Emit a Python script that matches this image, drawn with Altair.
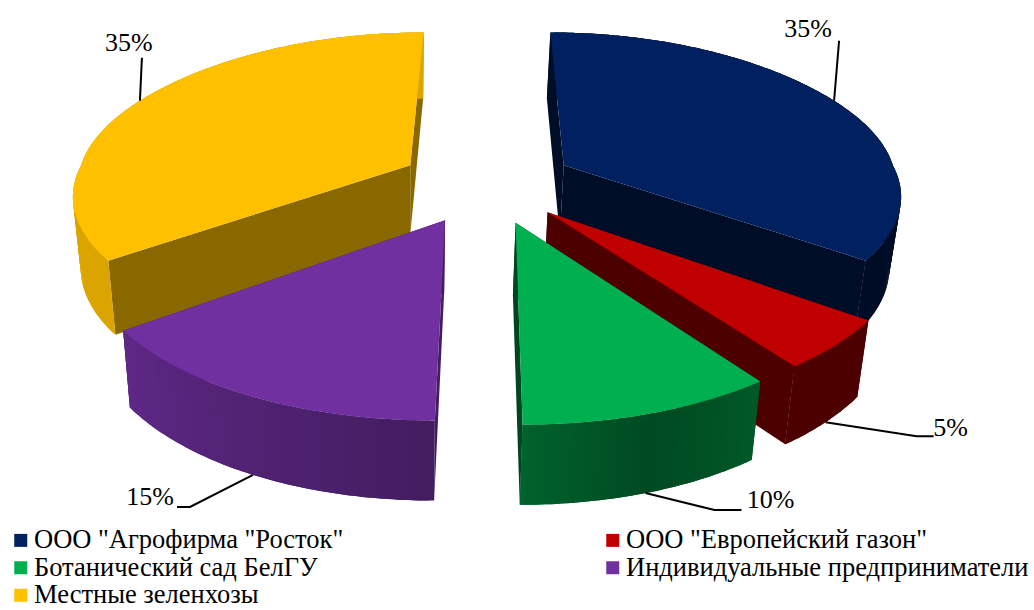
import math
import altair as alt

# Sales shares by buyer, clockwise from twelve o'clock.
NAMES = ['ООО "Агрофирма "Росток"', 'ООО "Европейский газон"', 'Ботанический сад БелГУ',
         'Индивидуальные предприниматели', 'Местные зеленхозы']
SHARES = [35, 5, 10, 15, 35]
COLORS = ["#002060", "#C00000", "#00B050", "#7030A0", "#FFC000"]

FONT = "Liberation Serif"

# Brightness of the rim walls along each slice and of its cut faces.
RIM_SHADE = [[0.40, 0.40], [0.40, 0.40], [0.50, 0.42, 0.56], [0.60, 0.84], [0.86, 0.86]]
CUT_SHADE = [0.40, 0.40, 0.40, 0.60, 0.54]
DRAW_ORDER = [0, 4, 1, 3, 2]

# Camera model for the exploded 3D pie.
CX, VANISH_Y, Y_UNIT = 487.0, -600.0, 800.0
DEPTH = 1650.0
EXPLODE_X, EXPLODE_Z, Z_SHIFT = 90.0, 86.0, 36.0
SIDE_TRIM = [0.0, -4.0, 0.0, 0.0, 0.0]


def top_point(x, z):
    s = 1.0 / (1.0 + z / DEPTH)
    return CX + x * s, VANISH_Y + Y_UNIT * s


def bottom_of(px, py):
    s = (py - VANISH_Y) / Y_UNIT
    dy = 43.0 + 29.0 * s
    return px + (CX - px) * 0.024 - 2.0, py + dy


def shade(hex_color, k):
    rgb = [int(hex_color[i:i + 2], 16) for i in (1, 3, 5)]
    return "#%02x%02x%02x" % tuple(int(round(c * k)) for c in rgb)


def poly(points, **props):
    ring = [list(p) for p in points] + [list(points[0])]
    return {"type": "Feature", "properties": props,
            "geometry": {"type": "Polygon", "coordinates": [ring]}}


def line(points):
    return {"type": "Feature", "properties": {},
            "geometry": {"type": "LineString", "coordinates": [list(p) for p in points]}}


def slice_frame(i):
    start = sum(SHARES[:i]) / sum(SHARES) * 2 * math.pi
    end = start + SHARES[i] / sum(SHARES) * 2 * math.pi
    mid = (start + end) / 2
    ax = EXPLODE_X * math.sin(mid) + SIDE_TRIM[i]
    az = Z_SHIFT + EXPLODE_Z * math.cos(mid)
    return start, end, mid, ax, az


def rim_point(i, t):
    # Rounded outline: fuller toward the sides and the back of the pie.
    _, _, _, ax, az = slice_frame(i)
    sn, cs = math.sin(t), math.cos(t)
    x = 330.0 * sn + 14.0 * sn ** 5 + 35.0 * sn * max(cs, 0.0)
    z = 339.0 * cs + 23.0 * cs * cs
    return top_point(ax + x, az + z)


def slice_faces(i):
    start, end, _, ax, az = slice_frame(i)
    apex = top_point(ax, az)
    steps = max(24, SHARES[i] * 5)
    angles = [start + (end - start) * k / steps for k in range(steps + 1)]
    rim = [rim_point(i, t) for t in angles]
    cut_fill = shade(COLORS[i], CUT_SHADE[i])
    walls = []
    for edge in (rim[0], rim[-1]):
        walls.append(poly([apex, edge, bottom_of(*edge), bottom_of(*apex)], fill=cut_fill))
    stops = RIM_SHADE[i]
    for k in range(steps):
        pos = (k + 0.5) / steps * (len(stops) - 1)
        j = min(int(pos), len(stops) - 2)
        level = stops[j] + (stops[j + 1] - stops[j]) * (pos - j)
        # Each strip runs under the next one so no seam shows between them.
        a, b, c = rim[k], rim[min(k + 1, steps)], rim[min(k + 2, steps)]
        walls.append(poly([a, b, c, bottom_of(*c), bottom_of(*b), bottom_of(*a)],
                          fill=shade(COLORS[i], level)))
    top = poly([apex] + rim, name=NAMES[i])
    return walls, top


GEO = dict(type="identity", scale=1, translate=[0, 0])
legend = alt.Legend(title=None, orient="none", direction="horizontal", legendX=7.5, legendY=527,
                    columns=2, columnPadding=256, rowPadding=0.5, symbolType="square",
                    symbolSize=169, symbolStrokeWidth=0, symbolOpacity=1, labelFont=FONT,
                    labelFontSize=26.5, labelColor="#000000", labelLimit=600, labelOffset=0)
layers = []
for i in DRAW_ORDER:
    walls, top = slice_faces(i)
    layers.append(
        alt.Chart(alt.InlineData(values=walls))
        .mark_geoshape(filled=True, strokeWidth=0)
        .encode(fill=alt.Fill("properties.fill:N", scale=None))
        .project(**GEO)
    )
    layers.append(
        alt.Chart(alt.InlineData(values=[top]))
        .mark_geoshape(filled=True, strokeWidth=0)
        .encode(color=alt.Color("properties.name:N",
                                scale=alt.Scale(domain=NAMES, range=COLORS),
                                sort=NAMES, legend=legend))
        .project(**GEO)
    )

# Value labels sit off the rim at each slice's mid angle; offsets are relative to that point.
LABEL_OFFSETS = [(-26, -72), (125, 6), (125, 7), (-103, 22), (-11, -58)]
LEADER_BENDS = [[(5, -60)], [(91, 14), (108, 14)], [(69, 17), (96, 17)], [(-63, 32), (-76, 32)], [(2, -43)]]
ON_WALL = [False, True, True, True, False]

for i in range(len(SHARES)):
    _, _, mid, _, _ = slice_frame(i)
    anchor = rim_point(i, mid)
    if ON_WALL[i]:
        anchor = bottom_of(*anchor)
    path = [anchor] + [(anchor[0] + dx, anchor[1] + dy) for dx, dy in LEADER_BENDS[i]]
    layers.append(
        alt.Chart(alt.InlineData(values=[line(path)]))
        .mark_geoshape(filled=False, stroke="#000000", strokeWidth=2)
        .project(**GEO)
    )
    ox, oy = LABEL_OFFSETS[i]
    layers.append(
        alt.Chart(alt.InlineData(values=[{"label": f"{SHARES[i]}%"}]))
        .mark_text(font=FONT, fontSize=26, color="#000000", align="center", baseline="middle")
        .encode(text="label:N", x=alt.value(anchor[0] + ox), y=alt.value(anchor[1] + oy))
    )

chart = (
    alt.layer(*layers)
    .properties(width=1034, height=610, padding=0, background="#ffffff",
                autosize=alt.AutoSizeParams(type="none"))
    .configure_view(stroke=None)
)
chart.save("out.html", embed_options={"renderer": "svg", "actions": False})
